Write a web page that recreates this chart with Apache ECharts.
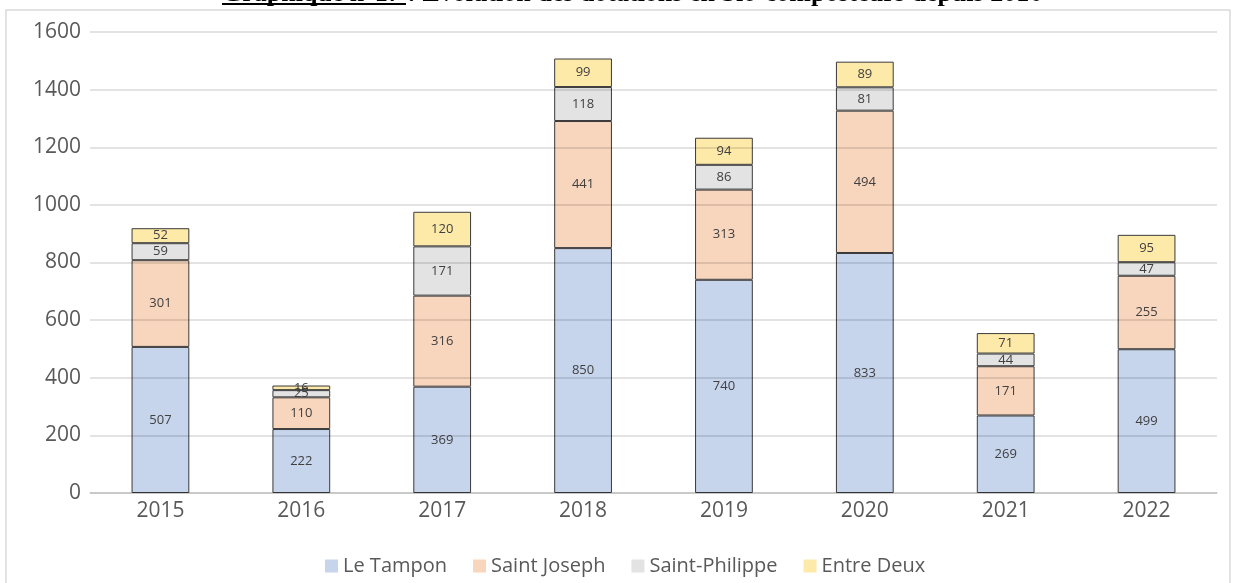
<!DOCTYPE html>
<html>
<head>
<meta charset="utf-8">
<script src="https://cdn.jsdelivr.net/npm/echarts@6/dist/echarts.min.js"></script>
<style>
  html, body { margin: 0; padding: 0; background: #fff; }
  #chart { width: 1237px; height: 583px; }
</style>
</head>
<body>
<div id="chart"></div>
<script>
var years = ['2015', '2016', '2017', '2018', '2019', '2020', '2021', '2022']
var leTampon = [507, 222, 369, 850, 740, 833, 269, 499]
var saintJoseph = [301, 110, 316, 441, 313, 494, 171, 255]
var saintPhilippe = [59, 25, 171, 118, 86, 81, 44, 47]
var entreDeux = [52, 16, 120, 99, 94, 89, 71, 95]
var yTicks = [0, 1600, 200]

var chart = echarts.init(document.getElementById('chart'))

function serie (name, data) {
  return {
    name: name,
    type: 'bar',
    stack: 'total',
    barWidth: '41%',
    data: data,
    itemStyle: { borderColor: '#3a3a3a', borderWidth: 1 },
    label: {
      show: true,
      position: 'inside',
      color: '#404040',
      fontSize: 13,
      fontFamily: 'Open Sans'
    }
  }
}

chart.setOption({
  animation: false,
  color: ['#c6d4ec', '#f8d5bd', '#e3e3e3', '#fde9a8'],
  graphic: [
    {
      type: 'text',
      left: 222,
      top: -19,
      style: {
        text: 'Graphique n°17 : Évolution des dotations en bio-composteurs depuis 2016',
        font: 'bold 26px "Liberation Serif"',
        fill: '#000'
      }
    },
    {
      type: 'rect',
      shape: { x: 222, y: 3, width: 184, height: 2 },
      style: { fill: '#000' }
    },
    {
      type: 'rect',
      shape: { x: 0, y: 9, width: 1237, height: 600 },
      style: { fill: '#fff' },
      z: -1
    },
    {
      type: 'rect',
      shape: { x: 6, y: 10, width: 1224, height: 600 },
      style: { fill: 'none', stroke: '#d9d9d9', lineWidth: 1.5 },
      z: 0
    }
  ],
  grid: { left: 90, right: 20, top: 32, bottom: 90 },
  legend: {
    bottom: 2,
    left: 320,
    itemWidth: 13,
    itemHeight: 13,
    itemGap: 26,
    itemTextGap: 8,
    icon: 'rect',
    itemStyle: { borderWidth: 0 },
    textStyle: { fontSize: 20, color: '#595959', fontFamily: 'Open Sans' },
    data: ['Le Tampon', 'Saint Joseph', 'Saint-Philippe', 'Entre Deux']
  },
  xAxis: {
    type: 'category',
    data: years,
    axisTick: { show: false },
    axisLine: { lineStyle: { color: '#d9d9d9', width: 1.5 } },
    axisLabel: { fontSize: 21, color: '#595959', margin: 8, fontFamily: 'Open Sans' }
  },
  yAxis: {
    type: 'value',
    min: yTicks[0],
    max: yTicks[1],
    interval: yTicks[2],
    z: 5,
    axisLine: { show: false },
    axisTick: { show: false },
    axisLabel: {
      fontSize: 21,
      color: '#595959',
      margin: 9,
      fontFamily: 'Open Sans',
      formatter: function (v) { return String(v) }
    },
    splitLine: { lineStyle: { color: 'rgba(0,0,0,0.15)', width: 1.5 } }
  },
  series: [
    serie('Le Tampon', leTampon),
    serie('Saint Joseph', saintJoseph),
    serie('Saint-Philippe', saintPhilippe),
    serie('Entre Deux', entreDeux)
  ]
})
</script>
</body>
</html>
